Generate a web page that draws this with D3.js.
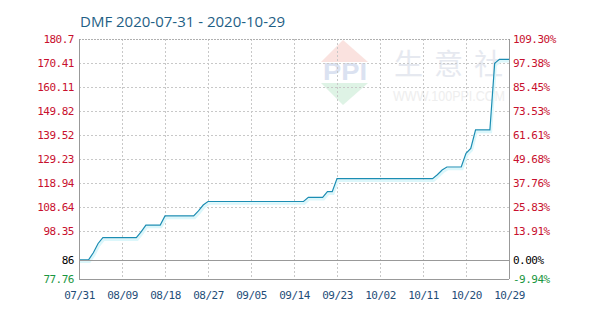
<!DOCTYPE html>
<html>
<head>
<meta charset="utf-8">
<script src="https://cdn.jsdelivr.net/npm/d3@7"></script>
<style>
  body { margin: 0; background: #fff; }
  text { font-family: "DejaVu Sans Mono", monospace; }
</style>
</head>
<body>
<svg width="606" height="322"></svg>
<script>
const svg = d3.select("svg");
const width = +svg.attr("width");
const height = +svg.attr("height");

// data, one value per day from 07/31
const startDate = "2020-07-31";
const prices = [
  86, 86, 86, 89, 93, 95.5, 95.5, 95.5, 95.5, 95.5,
  95.5, 95.5, 95.5, 98, 100.9, 100.9, 100.9, 100.9, 104.8, 104.8,
  104.8, 104.8, 104.8, 104.8, 104.8, 107, 109.5, 111, 111, 111,
  111, 111, 111, 111, 111, 111, 111, 111, 111, 111,
  111, 111, 111, 111, 111, 111, 111, 111, 112.8, 112.8,
  112.8, 112.8, 115.2, 115.2, 120.8, 120.8, 120.8, 120.8, 120.8, 120.8,
  120.8, 120.8, 120.8, 120.8, 120.8, 120.8, 120.8, 120.8, 120.8, 120.8,
  120.8, 120.8, 120.8, 120.8, 120.8, 122.5, 124.5, 125.8, 125.8, 125.8,
  125.8, 131.7, 133.8, 141.7, 141.7, 141.7, 141.7, 170.3, 172, 172,
  172
];
const xTickLabels = ["07/31", "08/09", "08/18", "08/27", "09/05", "09/14", "09/23", "10/02", "10/11", "10/20", "10/29"];
const yTicks = [77.76, 86, 98.35, 108.64, 118.94, 129.23, 139.52, 149.82, 160.11, 170.41, 180.7];
const yLeftLabels = ["77.76", "86", "98.35", "108.64", "118.94", "129.23", "139.52", "149.82", "160.11", "170.41", "180.7"];
const yRightLabels = ["-9.94%", "0.00%", "13.91%", "25.83%", "37.76%", "49.68%", "61.61%", "73.53%", "85.45%", "97.38%", "109.30%"];
const baseValue = 86;

const margin = { top: 39, right: 97, bottom: 43, left: 79 };
const parse = d3.timeParse("%Y-%m-%d");
const t0 = parse(startDate);
const data = prices.map((v, i) => ({ date: d3.timeDay.offset(t0, i), value: v }));
const xTickDates = d3.range(0, 91, 9).map(i => d3.timeDay.offset(t0, i));

const x = d3.scaleTime()
  .domain([t0, d3.timeDay.offset(t0, 90)])
  .range([margin.left, width - margin.right]);
const y = d3.scaleLinear()
  .domain([77.76, 180.7])
  .range([height - margin.bottom, margin.top]);

const labelColor = v => v === baseValue ? "#000" : (v < baseValue ? "#1a9641" : "#c8102e");

// watermark
const wm = svg.append("g").attr("opacity", 0.5);
wm.append("path").attr("d", "M321,62 L343,40 L368,62 Z").attr("fill", "#f7c7c0");
wm.append("path").attr("d", "M321,83 L343,105 L368,83 Z").attr("fill", "#bfe8cc");
wm.append("text").attr("x", 323).attr("y", 80)
  .attr("textLength", 44).attr("lengthAdjust", "spacingAndGlyphs")
  .style("font-family", "Arial, sans-serif").style("font-weight", "bold")
  .style("font-size", "23px").attr("fill", "#b9c6e4").text("PPI");
wm.append("text").attr("x", 394).attr("y", 75)
  .style("font-family", "Noto Sans CJK SC").style("font-size", "29px")
  .attr("letter-spacing", 11).attr("fill", "#cfd4e2").text("生意社");
wm.append("text").attr("x", 393).attr("y", 101)
  .attr("textLength", 112).attr("lengthAdjust", "spacingAndGlyphs")
  .style("font-family", "Arial, sans-serif").style("font-size", "14px")
  .attr("fill", "#dedede").text("WWW.100PPI.COM");

// grid
svg.append("g")
  .selectAll("line")
  .data(yTicks.slice(1, -1))
  .join("line")
  .attr("x1", margin.left).attr("x2", width - margin.right)
  .attr("y1", d => Math.round(y(d)) + 0.5).attr("y2", d => Math.round(y(d)) + 0.5)
  .attr("stroke", "#c8c8c8").attr("stroke-dasharray", "2,2");

svg.append("g")
  .selectAll("line")
  .data(xTickDates.slice(1, -1))
  .join("line")
  .attr("x1", d => Math.round(x(d)) + 0.5).attr("x2", d => Math.round(x(d)) + 0.5)
  .attr("y1", margin.top).attr("y2", height - margin.bottom)
  .attr("stroke", "#c8c8c8").attr("stroke-dasharray", "2,2");

// top dashed border
svg.append("line")
  .attr("x1", margin.left).attr("x2", width - margin.right)
  .attr("y1", margin.top + 0.5).attr("y2", margin.top + 0.5)
  .attr("stroke", "#b0b0b0").attr("stroke-dasharray", "2,1");

// line with light shadow
const line = d3.line()
  .x(d => x(d.date))
  .y(d => y(d.value));

svg.append("path")
  .datum(data)
  .attr("fill", "none")
  .attr("stroke", "#dcf7fb")
  .attr("stroke-width", 2.5)
  .attr("transform", "translate(1,2)")
  .attr("d", line);

svg.append("path")
  .datum(data)
  .attr("fill", "none")
  .attr("stroke", "#1b8db3")
  .attr("stroke-width", 1.2)
  .attr("d", line);

// axes frame lines
svg.append("line")
  .attr("x1", margin.left + 0.5).attr("x2", margin.left + 0.5)
  .attr("y1", margin.top).attr("y2", height - margin.bottom)
  .attr("stroke", "#999");
svg.append("line")
  .attr("x1", width - margin.right + 0.5).attr("x2", width - margin.right + 0.5)
  .attr("y1", margin.top).attr("y2", height - margin.bottom)
  .attr("stroke", "#999");
svg.append("line")
  .attr("x1", margin.left).attr("x2", width - margin.right)
  .attr("y1", height - margin.bottom + 0.5).attr("y2", height - margin.bottom + 0.5)
  .attr("stroke", "#999");

// baseline
svg.append("line")
  .attr("x1", margin.left).attr("x2", width - margin.right)
  .attr("y1", Math.round(y(baseValue)) + 0.5).attr("y2", Math.round(y(baseValue)) + 0.5)
  .attr("stroke", "#999");

// left axis
const leftAxis = d3.axisLeft(y)
  .tickValues(yTicks)
  .tickFormat((d, i) => yLeftLabels[i])
  .tickSize(0)
  .tickPadding(5);
const gl = svg.append("g")
  .attr("transform", `translate(${margin.left},0)`)
  .call(leftAxis);
gl.select(".domain").remove();
gl.selectAll("text")
  .style("font-size", "11px")
  .attr("letter-spacing", -0.5)
  .attr("fill", d => labelColor(d));

// right axis
const rightAxis = d3.axisRight(y)
  .tickValues(yTicks)
  .tickFormat((d, i) => yRightLabels[i])
  .tickSize(0)
  .tickPadding(4);
const gr = svg.append("g")
  .attr("transform", `translate(${width - margin.right},0)`)
  .call(rightAxis);
gr.select(".domain").remove();
gr.selectAll("text")
  .style("font-size", "11px")
  .attr("letter-spacing", -0.5)
  .attr("fill", d => labelColor(d));

// bottom axis
const bottomAxis = d3.axisBottom(x)
  .tickValues(xTickDates)
  .tickFormat((d, i) => xTickLabels[i])
  .tickSize(0)
  .tickPadding(12);
const gb = svg.append("g")
  .attr("transform", `translate(0,${height - margin.bottom})`)
  .call(bottomAxis);
gb.select(".domain").remove();
gb.selectAll("text")
  .style("font-size", "11px")
  .attr("letter-spacing", -0.5)
  .attr("fill", "#1f4e79");

// title
svg.append("text")
  .attr("x", 80)
  .attr("y", 27)
  .style("font-family", "'Open Sans', 'DejaVu Sans', sans-serif")
  .style("font-size", "15px")
  .attr("fill", "#1f5f86")
  .text("DMF 2020-07-31 - 2020-10-29");
</script>
</body>
</html>
